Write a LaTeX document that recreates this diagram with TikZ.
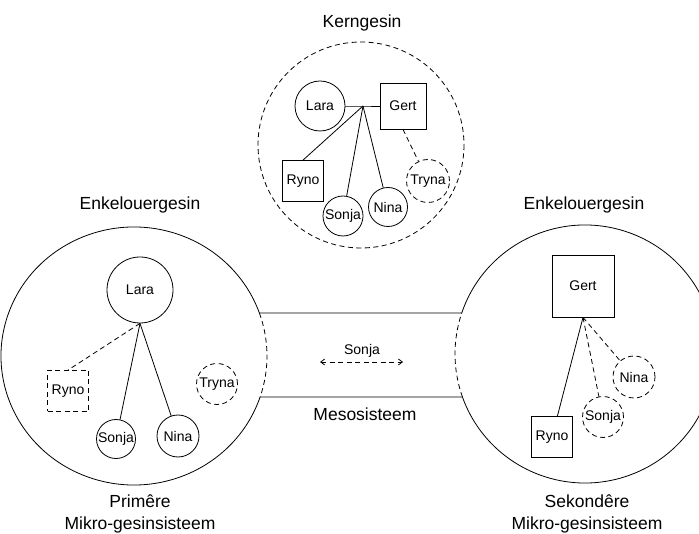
\documentclass[tikz,border=0pt]{standalone}
\usepackage{fontspec}
\setmainfont{Liberation Sans}
\usetikzlibrary{arrows.meta}

\begin{document}
\begin{tikzpicture}[x=1pt, y=-1pt, line width=0.8pt]
      \tikzstyle{vrou} = [circle, draw, inner sep=0pt, font=\fontsize{14}{16}\selectfont]
      \tikzstyle{man} = [rectangle, draw, inner sep=0pt, font=\fontsize{14}{16}\selectfont]
      \tikzstyle{afwesig} = [dash pattern=on 5pt off 3.5pt]
      \tikzstyle{opskrif} = [align=center, font=\fontsize{17.5}{22}\selectfont]
      \tikzstyle{pyl} = [{Straight Barb[length=4pt, width=6pt]}-{Straight Barb[length=4pt, width=6pt]}]

      \useasboundingbox (0,0) rectangle (699,534);
      \clip (0,0) rectangle (699,534);

      % kerngesin
      \draw[afwesig] (361,145) circle[radius=103];
      \node[opskrif] (kop) at (362,23) {Kerngesin};
      \node[vrou, minimum size=50pt] (kl) at (320,106) {Lara};
      \node[man, minimum size=46pt] (kg) at (403,106) {Gert};
      \coordinate (kj) at (363,106);
      \node[man, minimum size=41pt] (kr) at (303,181) {Ryno};
      \node[vrou, minimum size=40pt] (ks) at (343,216) {Sonja};
      \node[vrou, minimum size=39pt] (kn) at (388,207) {Nina};
      \node[vrou, afwesig, minimum size=43pt] (kt) at (428,181) {Tryna};

      \draw (kl) -- (kj) -- (kg);
      \draw (kj) -- (kr.north);
      \draw (kj) -- (ks);
      \draw (kj) -- (kn);
      \draw[afwesig] (kg.south) -- (kt);

      % primere mikro-gesinsisteem
      \coordinate (pm) at (134,356);
      \draw (pm) ++(18.53:133 and 129) coordinate (po)
            arc[start angle=18.53, end angle=340.53, x radius=133, y radius=129] coordinate (pb);
      \draw[afwesig] (pb) arc[start angle=-19.47, end angle=18.53, x radius=133, y radius=129];
      \node[opskrif] (pkop) at (140,205) {Enkelouergesin};
      \node[opskrif] (pvoet) at (140,514) {Primêre\\Mikro-gesinsisteem};

      \node[vrou, minimum size=66pt] (pl) at (140,290) {Lara};
      \node[man, afwesig, minimum size=41pt] (pr) at (68,391) {Ryno};
      \node[vrou, minimum size=39pt] (ps) at (116,439) {Sonja};
      \node[vrou, minimum size=42pt] (pn) at (178,436) {Nina};
      \node[vrou, afwesig, minimum size=41pt] (pt) at (217,384) {Tryna};

      \draw (pl.south) -- (ps);
      \draw (pl.south) -- (pn);
      \draw[afwesig] (pl.south) -- (pr.north);

      % sekondere mikro-gesinsisteem
      \coordinate (sm) at (585,354);
      \draw (sm) ++(198.53:130 and 129) coordinate (sb)
            arc[start angle=198.53, end angle=520.53, x radius=130, y radius=129] coordinate (so);
      \draw[afwesig] (so) arc[start angle=160.53, end angle=198.53, x radius=130, y radius=129];
      \node[opskrif] (skop) at (584,205) {Enkelouergesin};
      \node[opskrif] (svoet) at (587,514) {Sekondêre\\Mikro-gesinsisteem};

      \node[man, minimum size=62pt] (sg) at (583,286) {Gert};
      \node[man, minimum size=41pt] (sr) at (552,437) {Ryno};
      \node[vrou, afwesig, minimum size=41pt] (ss) at (603,417) {Sonja};
      \node[vrou, afwesig, minimum size=42pt] (sn) at (634,377) {Nina};

      \draw (sg.south) -- (sr);
      \draw[afwesig] (sg.south) -- (ss);
      \draw[afwesig] (sg.south) -- (sn);

      % mesosisteem
      \draw (pb) -- (sb);
      \draw (po) -- (so);
      \node[opskrif] (mkop) at (365,414) {Mesosisteem};
      \node[font=\fontsize{14}{16}\selectfont] (mnaam) at (362,351) {Sonja};
      \coordinate (ml) at (320,362);
      \coordinate (mr) at (403,362);
      \draw[afwesig, pyl] (ml) -- (mr);
\end{tikzpicture}
\end{document}
